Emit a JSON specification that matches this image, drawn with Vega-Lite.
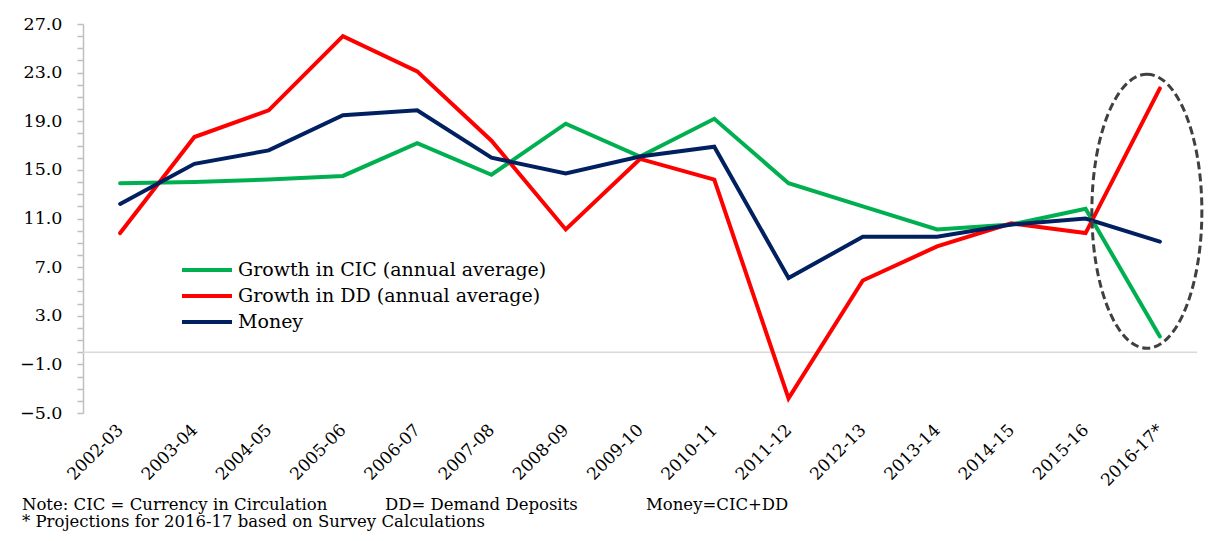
{
  "$schema": "https://vega.github.io/schema/vega-lite/v6.json",
  "width": 1114,
  "height": 389,
  "autosize": "none",
  "padding": {"left": 83, "top": 24, "right": 24, "bottom": 128},
  "background": "white",
  "config": {
    "view": {"stroke": null},
    "font": "DejaVu Serif"
  },
  "title": {
    "text": "Note: CIC = Currency in Circulation\u00a0\u00a0\u00a0\u00a0\u00a0\u00a0\u00a0\u00a0\u00a0\u00a0 DD= Demand Deposits\u00a0\u00a0\u00a0\u00a0\u00a0\u00a0\u00a0\u00a0\u00a0\u00a0\u00a0\u00a0 Money=CIC+DD",
    "subtitle": "* Projections for 2016-17 based on Survey Calculations",
    "orient": "bottom",
    "anchor": "start",
    "frame": "group",
    "dx": -61,
    "offset": 8,
    "font": "DejaVu Serif",
    "fontSize": 16.5,
    "fontWeight": "normal",
    "color": "#000000",
    "subtitleFont": "DejaVu Serif",
    "subtitleFontSize": 16.5,
    "subtitleColor": "#000000",
    "subtitlePadding": 1
  },
  "datasets": {
    "growth": [
      {"year": "2002-03", "series": "Growth in CIC (annual average)", "value": 13.9},
      {"year": "2003-04", "series": "Growth in CIC (annual average)", "value": 14.0},
      {"year": "2004-05", "series": "Growth in CIC (annual average)", "value": 14.2},
      {"year": "2005-06", "series": "Growth in CIC (annual average)", "value": 14.5},
      {"year": "2006-07", "series": "Growth in CIC (annual average)", "value": 17.2},
      {"year": "2007-08", "series": "Growth in CIC (annual average)", "value": 14.6},
      {"year": "2008-09", "series": "Growth in CIC (annual average)", "value": 18.8},
      {"year": "2009-10", "series": "Growth in CIC (annual average)", "value": 16.1},
      {"year": "2010-11", "series": "Growth in CIC (annual average)", "value": 19.2},
      {"year": "2011-12", "series": "Growth in CIC (annual average)", "value": 13.9},
      {"year": "2012-13", "series": "Growth in CIC (annual average)", "value": 12.0},
      {"year": "2013-14", "series": "Growth in CIC (annual average)", "value": 10.1},
      {"year": "2014-15", "series": "Growth in CIC (annual average)", "value": 10.5},
      {"year": "2015-16", "series": "Growth in CIC (annual average)", "value": 11.8},
      {"year": "2016-17*", "series": "Growth in CIC (annual average)", "value": 1.3},
      {"year": "2002-03", "series": "Growth in DD (annual average)", "value": 9.8},
      {"year": "2003-04", "series": "Growth in DD (annual average)", "value": 17.7},
      {"year": "2004-05", "series": "Growth in DD (annual average)", "value": 19.9},
      {"year": "2005-06", "series": "Growth in DD (annual average)", "value": 26.0},
      {"year": "2006-07", "series": "Growth in DD (annual average)", "value": 23.1},
      {"year": "2007-08", "series": "Growth in DD (annual average)", "value": 17.4},
      {"year": "2008-09", "series": "Growth in DD (annual average)", "value": 10.1},
      {"year": "2009-10", "series": "Growth in DD (annual average)", "value": 15.9},
      {"year": "2010-11", "series": "Growth in DD (annual average)", "value": 14.2},
      {"year": "2011-12", "series": "Growth in DD (annual average)", "value": -3.8},
      {"year": "2012-13", "series": "Growth in DD (annual average)", "value": 5.9},
      {"year": "2013-14", "series": "Growth in DD (annual average)", "value": 8.7},
      {"year": "2014-15", "series": "Growth in DD (annual average)", "value": 10.6},
      {"year": "2015-16", "series": "Growth in DD (annual average)", "value": 9.8},
      {"year": "2016-17*", "series": "Growth in DD (annual average)", "value": 21.7},
      {"year": "2002-03", "series": "Money", "value": 12.2},
      {"year": "2003-04", "series": "Money", "value": 15.5},
      {"year": "2004-05", "series": "Money", "value": 16.6},
      {"year": "2005-06", "series": "Money", "value": 19.5},
      {"year": "2006-07", "series": "Money", "value": 19.9},
      {"year": "2007-08", "series": "Money", "value": 16.0},
      {"year": "2008-09", "series": "Money", "value": 14.7},
      {"year": "2009-10", "series": "Money", "value": 16.1},
      {"year": "2010-11", "series": "Money", "value": 16.9},
      {"year": "2011-12", "series": "Money", "value": 6.1},
      {"year": "2012-13", "series": "Money", "value": 9.5},
      {"year": "2013-14", "series": "Money", "value": 9.5},
      {"year": "2014-15", "series": "Money", "value": 10.5},
      {"year": "2015-16", "series": "Money", "value": 11.0},
      {"year": "2016-17*", "series": "Money", "value": 9.1}
    ],
    "zero": [{"value": 0}],
    "highlight": [{"year": "2016-17*", "value": 11.6}]
  },
  "encoding": {
    "x": {
      "field": "year",
      "type": "nominal",
      "sort": null,
      "scale": {"type": "point", "padding": 0.5},
      "axis": {
        "title": null,
        "domain": false,
        "ticks": false,
        "labelAngle": -45,
        "labelAlign": "right",
        "labelBaseline": "middle",
        "labelPadding": 14,
        "labelFont": "DejaVu Serif",
        "labelFontSize": 17,
        "labelColor": "#000000"
      }
    },
    "y": {
      "field": "value",
      "type": "quantitative",
      "scale": {"domain": [-5, 27], "nice": false, "zero": false},
      "axis": {
        "title": null,
        "grid": false,
        "values": [-5, -4, -3, -2, -1, 0, 1, 2, 3, 4, 5, 6, 7, 8, 9, 10, 11, 12, 13, 14, 15, 16, 17, 18, 19, 20, 21, 22, 23, 24, 25, 26, 27],
        "labelExpr": "(datum.value + 5) % 4 == 0 ? format(datum.value, '.1f') : ''",
        "domainColor": "#bfbfbf",
        "domainWidth": 1.5,
        "tickColor": "#bfbfbf",
        "tickSize": 6,
        "tickWidth": 1.5,
        "labelPadding": 15,
        "labelFont": "DejaVu Serif",
        "labelFontSize": 17.5,
        "labelColor": "#000000"
      }
    }
  },
  "layer": [
    {
      "data": {"name": "zero"},
      "mark": {"type": "rule", "color": "#d9d9d9", "strokeWidth": 1.5},
      "encoding": {"y": {"field": "value", "type": "quantitative"}, "x": null}
    },
    {
      "data": {"name": "growth"},
      "mark": {"type": "line", "strokeWidth": 4, "strokeCap": "round", "strokeJoin": "miter"},
      "encoding": {
        "color": {
          "field": "series",
          "type": "nominal",
          "sort": null,
          "scale": {
            "domain": ["Growth in CIC (annual average)", "Growth in DD (annual average)", "Money"],
            "range": ["#00b050", "#ff0000", "#002060"]
          },
          "legend": {
            "title": null,
            "orient": "none",
            "legendX": 97,
            "legendY": 233,
            "symbolType": "stroke",
            "symbolSize": 2500,
            "symbolStrokeWidth": 4,
            "clipHeight": 26,
            "labelFont": "DejaVu Serif",
            "labelFontSize": 19,
            "labelColor": "#000000",
            "labelOffset": 4,
            "rowPadding": 0,
            "labelLimit": 400
          }
        }
      }
    },
    {
      "data": {"name": "highlight"},
      "mark": {
        "type": "point",
        "shape": "M 0 -1 C 0.2217 -1 0.4015 -0.5523 0.4015 0 C 0.4015 0.5523 0.2217 1 0 1 C -0.2217 1 -0.4015 0.5523 -0.4015 0 C -0.4015 -0.5523 -0.2217 -1 0 -1 Z",
        "size": 75076,
        "filled": false,
        "stroke": "#404040",
        "strokeWidth": 3,
        "strokeDash": [8, 4],
        "opacity": 1,
        "xOffset": -13
      }
    }
  ]
}
